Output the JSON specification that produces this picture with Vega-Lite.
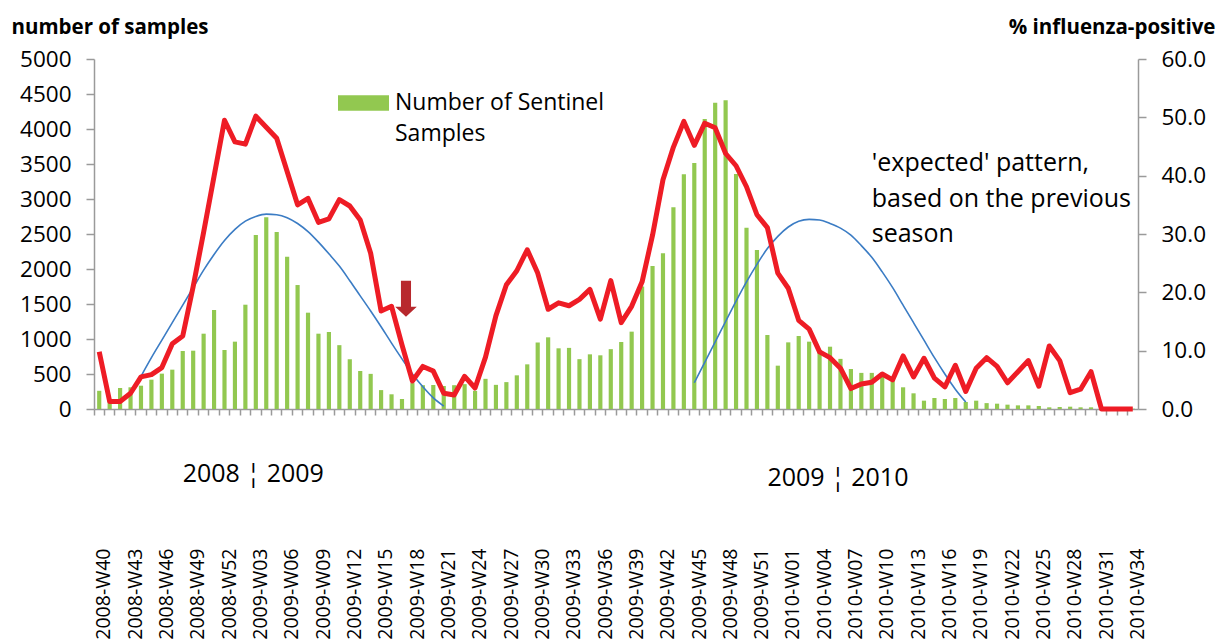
{
  "$schema": "https://vega.github.io/schema/vega-lite/v6.json",
  "width": 1044,
  "height": 350,
  "autosize": {"type": "none"},
  "padding": {"left": 94, "top": 59, "right": 82, "bottom": 235},
  "background": "white",
  "config": {"view": {"stroke": null}, "font": "Open Sans", "style": {"guide-label": {"lineHeight": 31}}},
  "datasets": {
    "weekly": [
      {"week": "2008-W40", "samples": 260, "pct": 9.8},
      {"week": "2008-W41", "samples": 110, "pct": 1.3},
      {"week": "2008-W42", "samples": 300, "pct": 1.3},
      {"week": "2008-W43", "samples": 310, "pct": 2.7},
      {"week": "2008-W44", "samples": 333, "pct": 5.5},
      {"week": "2008-W45", "samples": 419, "pct": 5.9},
      {"week": "2008-W46", "samples": 505, "pct": 7.1},
      {"week": "2008-W47", "samples": 562, "pct": 11.2},
      {"week": "2008-W48", "samples": 829, "pct": 12.5},
      {"week": "2008-W49", "samples": 833, "pct": 21.0},
      {"week": "2008-W50", "samples": 1076, "pct": 30.3},
      {"week": "2008-W51", "samples": 1414, "pct": 39.9},
      {"week": "2008-W52", "samples": 843, "pct": 49.5},
      {"week": "2009-W01", "samples": 962, "pct": 45.8},
      {"week": "2009-W02", "samples": 1490, "pct": 45.4},
      {"week": "2009-W03", "samples": 2486, "pct": 50.2},
      {"week": "2009-W04", "samples": 2738, "pct": 48.3},
      {"week": "2009-W05", "samples": 2529, "pct": 46.4},
      {"week": "2009-W06", "samples": 2176, "pct": 40.7},
      {"week": "2009-W07", "samples": 1771, "pct": 35.0},
      {"week": "2009-W08", "samples": 1376, "pct": 36.1},
      {"week": "2009-W09", "samples": 1076, "pct": 32.0},
      {"week": "2009-W10", "samples": 1100, "pct": 32.6},
      {"week": "2009-W11", "samples": 912, "pct": 35.9},
      {"week": "2009-W12", "samples": 712, "pct": 34.8},
      {"week": "2009-W13", "samples": 543, "pct": 32.4},
      {"week": "2009-W14", "samples": 502, "pct": 26.7},
      {"week": "2009-W15", "samples": 270, "pct": 16.8},
      {"week": "2009-W16", "samples": 210, "pct": 17.6},
      {"week": "2009-W17", "samples": 143, "pct": 11.0},
      {"week": "2009-W18", "samples": 370, "pct": 4.8},
      {"week": "2009-W19", "samples": 340, "pct": 7.3},
      {"week": "2009-W20", "samples": 343, "pct": 6.5},
      {"week": "2009-W21", "samples": 329, "pct": 2.7},
      {"week": "2009-W22", "samples": 340, "pct": 2.4},
      {"week": "2009-W23", "samples": 355, "pct": 5.6},
      {"week": "2009-W24", "samples": 260, "pct": 3.6},
      {"week": "2009-W25", "samples": 431, "pct": 8.9},
      {"week": "2009-W26", "samples": 345, "pct": 16.0},
      {"week": "2009-W27", "samples": 384, "pct": 21.3},
      {"week": "2009-W28", "samples": 481, "pct": 23.7},
      {"week": "2009-W29", "samples": 638, "pct": 27.3},
      {"week": "2009-W30", "samples": 950, "pct": 23.3},
      {"week": "2009-W31", "samples": 1024, "pct": 17.1},
      {"week": "2009-W32", "samples": 867, "pct": 18.2},
      {"week": "2009-W33", "samples": 873, "pct": 17.7},
      {"week": "2009-W34", "samples": 712, "pct": 18.8},
      {"week": "2009-W35", "samples": 781, "pct": 20.5},
      {"week": "2009-W36", "samples": 767, "pct": 15.4},
      {"week": "2009-W37", "samples": 855, "pct": 22.0},
      {"week": "2009-W38", "samples": 957, "pct": 14.8},
      {"week": "2009-W39", "samples": 1105, "pct": 17.6},
      {"week": "2009-W40", "samples": 1750, "pct": 21.8},
      {"week": "2009-W41", "samples": 2043, "pct": 29.8},
      {"week": "2009-W42", "samples": 2224, "pct": 39.3},
      {"week": "2009-W43", "samples": 2881, "pct": 44.9},
      {"week": "2009-W44", "samples": 3352, "pct": 49.3},
      {"week": "2009-W45", "samples": 3514, "pct": 45.2},
      {"week": "2009-W46", "samples": 4143, "pct": 49.0},
      {"week": "2009-W47", "samples": 4376, "pct": 48.2},
      {"week": "2009-W48", "samples": 4410, "pct": 43.8},
      {"week": "2009-W49", "samples": 3357, "pct": 41.7},
      {"week": "2009-W50", "samples": 2590, "pct": 38.1},
      {"week": "2009-W51", "samples": 2271, "pct": 33.3},
      {"week": "2009-W52", "samples": 1057, "pct": 31.1},
      {"week": "2009-W53", "samples": 619, "pct": 23.3},
      {"week": "2010-W01", "samples": 952, "pct": 20.7},
      {"week": "2010-W02", "samples": 1043, "pct": 15.2},
      {"week": "2010-W03", "samples": 962, "pct": 13.7},
      {"week": "2010-W04", "samples": 843, "pct": 9.8},
      {"week": "2010-W05", "samples": 890, "pct": 8.8},
      {"week": "2010-W06", "samples": 716, "pct": 7.0},
      {"week": "2010-W07", "samples": 571, "pct": 3.5},
      {"week": "2010-W08", "samples": 516, "pct": 4.3},
      {"week": "2010-W09", "samples": 516, "pct": 4.6},
      {"week": "2010-W10", "samples": 490, "pct": 6.0},
      {"week": "2010-W11", "samples": 440, "pct": 5.0},
      {"week": "2010-W12", "samples": 310, "pct": 9.1},
      {"week": "2010-W13", "samples": 224, "pct": 5.5},
      {"week": "2010-W14", "samples": 119, "pct": 8.7},
      {"week": "2010-W15", "samples": 157, "pct": 5.3},
      {"week": "2010-W16", "samples": 143, "pct": 3.8},
      {"week": "2010-W17", "samples": 157, "pct": 7.5},
      {"week": "2010-W18", "samples": 100, "pct": 3.0},
      {"week": "2010-W19", "samples": 119, "pct": 7.0},
      {"week": "2010-W20", "samples": 84, "pct": 8.8},
      {"week": "2010-W21", "samples": 76, "pct": 7.3},
      {"week": "2010-W22", "samples": 62, "pct": 4.5},
      {"week": "2010-W23", "samples": 52, "pct": 6.4},
      {"week": "2010-W24", "samples": 52, "pct": 8.3},
      {"week": "2010-W25", "samples": 43, "pct": 3.9},
      {"week": "2010-W26", "samples": 24, "pct": 10.8},
      {"week": "2010-W27", "samples": 29, "pct": 8.3},
      {"week": "2010-W28", "samples": 33, "pct": 2.8},
      {"week": "2010-W29", "samples": 24, "pct": 3.4},
      {"week": "2010-W30", "samples": 24, "pct": 6.4},
      {"week": "2010-W31", "samples": 15, "pct": 0},
      {"week": "2010-W32", "samples": 10, "pct": 0},
      {"week": "2010-W33", "samples": 5, "pct": 0},
      {"week": "2010-W34", "samples": 5, "pct": 0}
    ],
    "expected": [
      {"season": "2008/09", "week": "2008-W44", "val": 5.6},
      {"season": "2008/09", "week": "2008-W45", "val": 8.8},
      {"season": "2008/09", "week": "2008-W46", "val": 11.8},
      {"season": "2008/09", "week": "2008-W47", "val": 14.8},
      {"season": "2008/09", "week": "2008-W48", "val": 17.8},
      {"season": "2008/09", "week": "2008-W49", "val": 20.8},
      {"season": "2008/09", "week": "2008-W50", "val": 23.8},
      {"season": "2008/09", "week": "2008-W51", "val": 26.5},
      {"season": "2008/09", "week": "2008-W52", "val": 28.9},
      {"season": "2008/09", "week": "2009-W01", "val": 30.8},
      {"season": "2008/09", "week": "2009-W02", "val": 32.2},
      {"season": "2008/09", "week": "2009-W03", "val": 33.0},
      {"season": "2008/09", "week": "2009-W04", "val": 33.4},
      {"season": "2008/09", "week": "2009-W05", "val": 33.3},
      {"season": "2008/09", "week": "2009-W06", "val": 32.8},
      {"season": "2008/09", "week": "2009-W07", "val": 31.8},
      {"season": "2008/09", "week": "2009-W08", "val": 30.4},
      {"season": "2008/09", "week": "2009-W09", "val": 28.6},
      {"season": "2008/09", "week": "2009-W10", "val": 26.6},
      {"season": "2008/09", "week": "2009-W11", "val": 24.5},
      {"season": "2008/09", "week": "2009-W12", "val": 22.0},
      {"season": "2008/09", "week": "2009-W13", "val": 19.4},
      {"season": "2008/09", "week": "2009-W14", "val": 16.8},
      {"season": "2008/09", "week": "2009-W15", "val": 14.1},
      {"season": "2008/09", "week": "2009-W16", "val": 11.3},
      {"season": "2008/09", "week": "2009-W17", "val": 8.6},
      {"season": "2008/09", "week": "2009-W18", "val": 6.0},
      {"season": "2008/09", "week": "2009-W19", "val": 3.8},
      {"season": "2008/09", "week": "2009-W20", "val": 1.9},
      {"season": "2008/09", "week": "2009-W21", "val": 0.5},
      {"season": "2009/10", "week": "2009-W45", "val": 4.5},
      {"season": "2009/10", "week": "2009-W46", "val": 8.0},
      {"season": "2009/10", "week": "2009-W47", "val": 11.5},
      {"season": "2009/10", "week": "2009-W48", "val": 15.0},
      {"season": "2009/10", "week": "2009-W49", "val": 18.5},
      {"season": "2009/10", "week": "2009-W50", "val": 21.8},
      {"season": "2009/10", "week": "2009-W51", "val": 24.8},
      {"season": "2009/10", "week": "2009-W52", "val": 27.5},
      {"season": "2009/10", "week": "2009-W53", "val": 29.6},
      {"season": "2009/10", "week": "2010-W01", "val": 31.2},
      {"season": "2009/10", "week": "2010-W02", "val": 32.2},
      {"season": "2009/10", "week": "2010-W03", "val": 32.5},
      {"season": "2009/10", "week": "2010-W04", "val": 32.4},
      {"season": "2009/10", "week": "2010-W05", "val": 31.8},
      {"season": "2009/10", "week": "2010-W06", "val": 31.0},
      {"season": "2009/10", "week": "2010-W07", "val": 29.8},
      {"season": "2009/10", "week": "2010-W08", "val": 28.0},
      {"season": "2009/10", "week": "2010-W09", "val": 26.0},
      {"season": "2009/10", "week": "2010-W10", "val": 23.5},
      {"season": "2009/10", "week": "2010-W11", "val": 20.8},
      {"season": "2009/10", "week": "2010-W12", "val": 17.8},
      {"season": "2009/10", "week": "2010-W13", "val": 14.8},
      {"season": "2009/10", "week": "2010-W14", "val": 11.8},
      {"season": "2009/10", "week": "2010-W15", "val": 8.8},
      {"season": "2009/10", "week": "2010-W16", "val": 6.0},
      {"season": "2009/10", "week": "2010-W17", "val": 3.4},
      {"season": "2009/10", "week": "2010-W18", "val": 1.2}
    ],
    "marker": [{"week": "2009-W17", "pos": 18.9}],
    "notes": [
      {"week": "2008-W48", "pos": -11.1, "label": "2008 ¦ 2009"},
      {"week": "2009-W52", "pos": -11.8, "label": "2009 ¦ 2010"},
      {"week": "2010-W09", "pos": 42.2, "label": "'expected' pattern,"},
      {"week": "2010-W09", "pos": 36.0, "label": "based on the previous"},
      {"week": "2010-W09", "pos": 30.0, "label": "season"}
    ]
  },
  "encoding": {
    "x": {
      "field": "week",
      "type": "ordinal",
      "sort": null,
      "scale": {
        "paddingInner": 0,
        "paddingOuter": 0,
        "domain": ["2008-W40","2008-W41","2008-W42","2008-W43","2008-W44","2008-W45","2008-W46","2008-W47","2008-W48","2008-W49","2008-W50","2008-W51","2008-W52","2009-W01","2009-W02","2009-W03","2009-W04","2009-W05","2009-W06","2009-W07","2009-W08","2009-W09","2009-W10","2009-W11","2009-W12","2009-W13","2009-W14","2009-W15","2009-W16","2009-W17","2009-W18","2009-W19","2009-W20","2009-W21","2009-W22","2009-W23","2009-W24","2009-W25","2009-W26","2009-W27","2009-W28","2009-W29","2009-W30","2009-W31","2009-W32","2009-W33","2009-W34","2009-W35","2009-W36","2009-W37","2009-W38","2009-W39","2009-W40","2009-W41","2009-W42","2009-W43","2009-W44","2009-W45","2009-W46","2009-W47","2009-W48","2009-W49","2009-W50","2009-W51","2009-W52","2009-W53","2010-W01","2010-W02","2010-W03","2010-W04","2010-W05","2010-W06","2010-W07","2010-W08","2010-W09","2010-W10","2010-W11","2010-W12","2010-W13","2010-W14","2010-W15","2010-W16","2010-W17","2010-W18","2010-W19","2010-W20","2010-W21","2010-W22","2010-W23","2010-W24","2010-W25","2010-W26","2010-W27","2010-W28","2010-W29","2010-W30","2010-W31","2010-W32","2010-W33","2010-W34"]
      },
      "axis": {
        "title": null,
        "bandPosition": 0,
        "labelOffset": 5.22,
        "labelAngle": 270,
        "labelAlign": "right",
        "labelBaseline": "middle",
        "labelPadding": 133,
        "tickSize": 6,
        "labelExpr": "round(datum.index*99) % 3 == 0 ? datum.label : ''",
        "labelOverlap": false,
        "labelBound": false,
        "labelFlush": false,
        "labelFontSize": 19.5,
        "labelColor": "#000000",
        "domainColor": "#9a9a9a",
        "tickColor": "#9a9a9a",
        "domainWidth": 1.5,
        "tickWidth": 1.5,
        "grid": false
      }
    }
  },
  "layer": [
    {
      "data": {"name": "weekly"},
      "mark": {"type": "bar", "width": {"band": 0.4}},
      "encoding": {
        "y": {
          "field": "samples",
          "type": "quantitative",
          "scale": {"domain": [0, 5000], "nice": false},
          "axis": {
            "orient": "left",
            "title": "number of samples",
            "titleAngle": 0,
            "titleAlign": "left",
            "titleBaseline": "alphabetic",
            "titleX": -83,
            "titleY": -26,
            "titleFontSize": 20.5,
            "titleFontWeight": "bold",
            "titleColor": "#000000",
            "values": [0, 500, 1000, 1500, 2000, 2500, 3000, 3500, 4000, 4500, 5000],
            "format": "d",
            "tickSize": 8,
            "labelPadding": 15,
            "labelFontSize": 22.5,
            "labelColor": "#000000",
            "domainColor": "#9a9a9a",
            "tickColor": "#9a9a9a",
            "domainWidth": 1.5,
            "tickWidth": 1.5,
            "grid": false
          }
        },
        "color": {
          "datum": "Number of Sentinel Samples",
          "scale": {"range": ["#92C850"]},
          "legend": {
            "orient": "none",
            "legendX": 244,
            "legendY": 18.5,
            "padding": 0,
            "title": null,
            "symbolType": "M-1,-0.3H1V0.3H-1Z",
            "symbolSize": 2601,
            "symbolStrokeWidth": 0,
            "labelFontSize": 23,
            "labelColor": "#000000",
            "labelOffset": 6,
            "labelLimit": 400,
            "labelBaseline": "middle",
            "labelExpr": "['Number of Sentinel', 'Samples']"
          }
        }
      }
    },
    {
      "layer": [
        {
          "data": {"name": "expected"},
          "mark": {"type": "line", "color": "#3B7CC4", "strokeWidth": 1.6, "interpolate": "monotone"},
          "encoding": {
            "y": {"field": "val", "type": "quantitative", "scale": {"domain": [0, 60], "nice": false}},
            "detail": {"field": "season"}
          }
        },
        {
          "data": {"name": "weekly"},
          "mark": {"type": "line", "color": "#EE1C25", "strokeWidth": 5, "strokeJoin": "round", "strokeCap": "butt"},
          "encoding": {
            "y": {
              "field": "pct",
              "type": "quantitative",
              "scale": {"domain": [0, 60], "nice": false},
              "axis": {
                "orient": "right",
                "title": "% influenza-positive",
                "titleAngle": 0,
                "titleAlign": "right",
                "titleBaseline": "alphabetic",
                "titleX": 77,
                "titleY": -26,
                "titleFontSize": 20.5,
                "titleFontWeight": "bold",
                "titleColor": "#000000",
                "values": [0, 10, 20, 30, 40, 50, 60],
                "format": ".1f",
                "tickSize": 8,
                "labelPadding": 15,
                "labelFontSize": 22.5,
                "labelColor": "#000000",
                "domainColor": "#9a9a9a",
                "tickColor": "#9a9a9a",
                "domainWidth": 1.5,
                "tickWidth": 1.5,
                "grid": false
              }
            }
          }
        },
        {
          "data": {"name": "marker"},
          "mark": {"type": "point", "shape": "M-0.28,-1L0.28,-1L0.28,0.44L0.6,0.44L0,1L-0.6,0.44L-0.28,0.44Z", "size": 1296, "filled": true, "fill": "#B8282D", "opacity": 1, "strokeWidth": 0, "xOffset": 4},
          "encoding": {
            "y": {"field": "pos", "type": "quantitative", "scale": {"domain": [0, 60], "nice": false}}
          }
        },
        {
          "data": {"name": "notes"},
          "mark": {"type": "text", "align": "left", "baseline": "middle", "fontSize": 25, "color": "#000000"},
          "encoding": {
            "y": {"field": "pos", "type": "quantitative", "scale": {"domain": [0, 60], "nice": false}},
            "text": {"field": "label"}
          }
        }
      ]
    }
  ],
  "resolve": {"scale": {"y": "independent"}}
}
